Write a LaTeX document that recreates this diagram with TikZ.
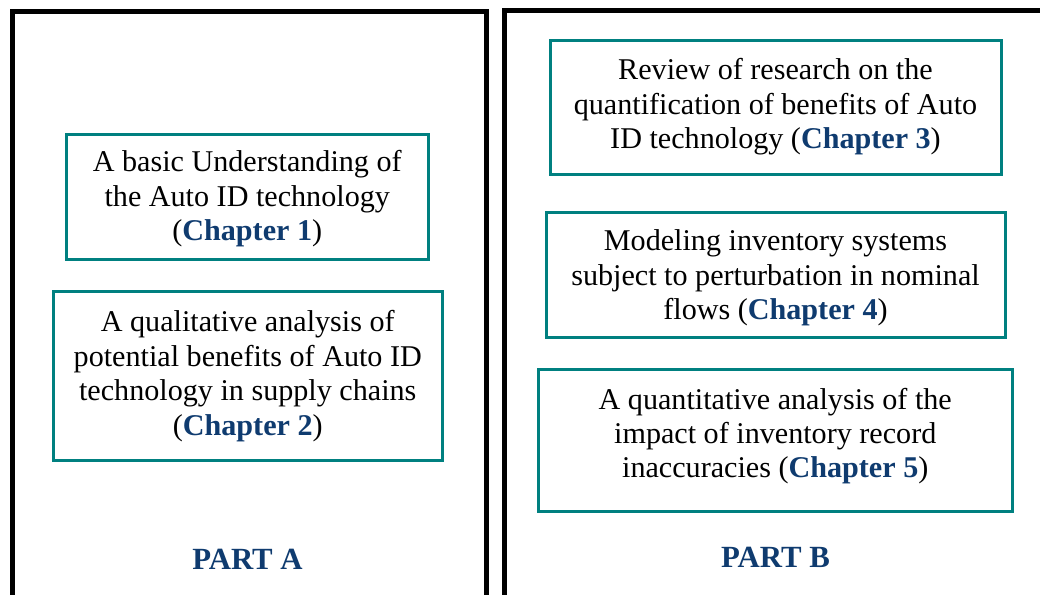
\documentclass[tikz,border=0pt]{standalone}
\usepackage{fontspec}
\setmainfont{Liberation Serif}
\definecolor{tealc}{RGB}{0,128,128}
\definecolor{navy}{RGB}{15,59,111}
\newcommand{\chap}[1]{(\textbf{\color{navy}Chapter #1})}
\tikzset{
  part/.style={draw=black, line width=3.75pt, anchor=north west, inner sep=0pt},
  chapbox/.style={draw=tealc, line width=2.25pt, inner sep=0pt},
  chaptext/.style={align=center, inner sep=0pt, font=\fontsize{22.6}{25.8}\selectfont},
  parttitle/.style={inner sep=0pt, text=navy, font=\fontsize{23.1}{26}\selectfont\bfseries}
}
\begin{document}
\begin{tikzpicture}[x=0.75pt, y=-0.75pt]
\useasboundingbox (0,0) rectangle (1040,595);
% outer part boxes
\node[part, minimum width=474*0.75pt, minimum height=585.5*0.75pt] (pa) at (10,9.5) {};
\node[part, minimum width=543*0.75pt, minimum height=586.5*0.75pt] (pb) at (502,8.5) {};
% chapter boxes
\node[chapbox, minimum width=361.5*0.75pt, minimum height=125.5*0.75pt] (b1) at (247.25,197.25) {};
\node[chapbox, minimum width=388.5*0.75pt, minimum height=169*0.75pt] (b2) at (247.75,376) {};
\node[chapbox, minimum width=451*0.75pt, minimum height=134*0.75pt] (b3) at (775.5,108) {};
\node[chapbox, minimum width=459*0.75pt, minimum height=125.5*0.75pt] (b4) at (775.5,275.25) {};
\node[chapbox, minimum width=474.5*0.75pt, minimum height=142*0.75pt] (b5) at (775.25,441) {};
% texts
\node[chaptext] (t1) at (247.25,199) {A basic Understanding of\\the Auto ID technology\\\chap{1}};
\node[chaptext] (t2) at (247.75,376) {A qualitative analysis of\\potential benefits of Auto ID\\technology in supply chains\\\chap{2}};
\node[chaptext] (t3) at (775.5,107) {Review of research on the\\quantification of benefits of Auto\\ID technology \chap{3}};
\node[chaptext] (t4) at (775.5,278) {Modeling inventory systems\\subject to perturbation in nominal\\flows \chap{4}};
\node[chaptext] (t5) at (775.25,436) {A quantitative analysis of the\\impact of inventory record\\inaccuracies \chap{5}};
\node[parttitle] (la) at (247.5,559) {PART A};
\node[parttitle] (lb) at (775.5,557) {PART B};
\end{tikzpicture}
\end{document}
